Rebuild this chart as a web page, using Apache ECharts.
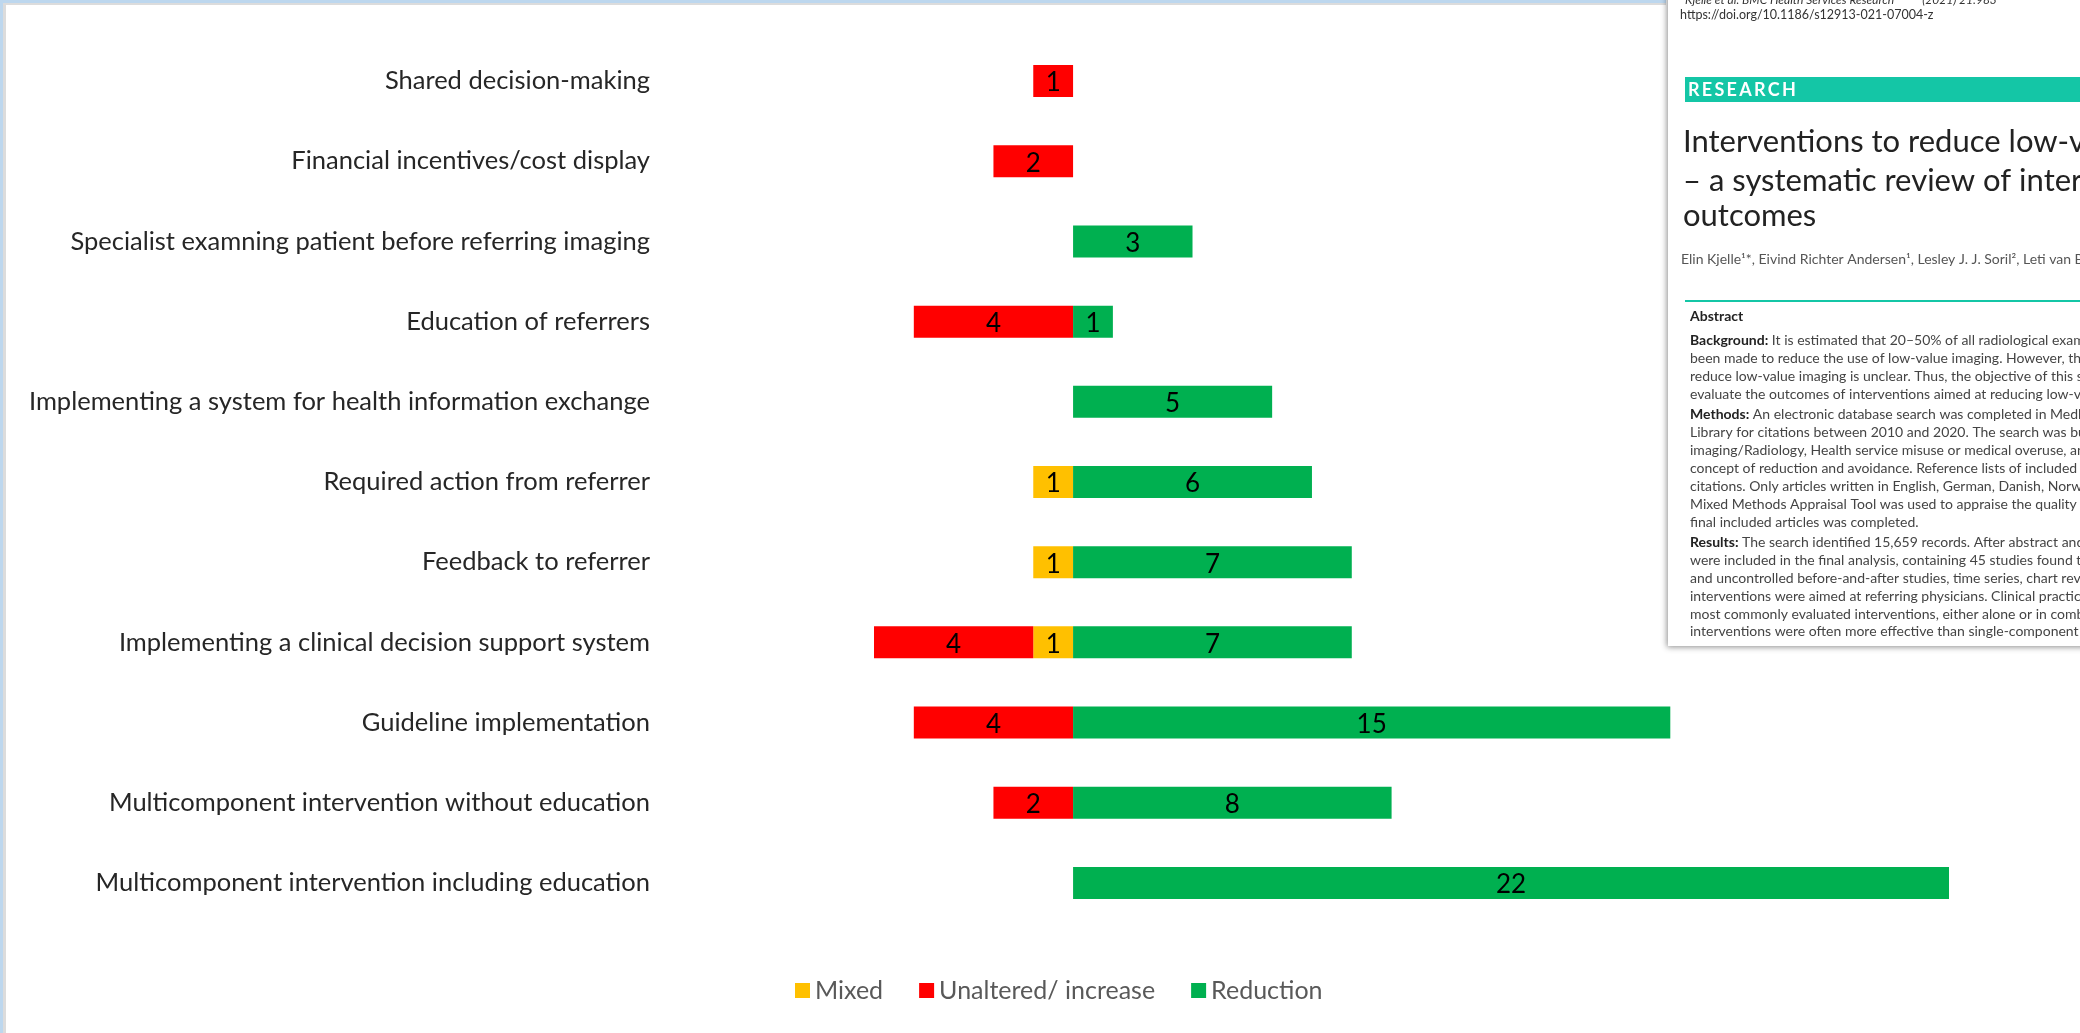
<!DOCTYPE html>
<html><head><meta charset="utf-8">
<script src="https://cdn.jsdelivr.net/npm/echarts@6/dist/echarts.min.js"></script>
<style>html,body{margin:0;padding:0;background:#fff}#c{width:2080px;height:1033px}</style>
</head><body><div id="c"></div>
<script>
const categories = [
  'Shared decision-making',
  'Financial incentives/cost display',
  'Specialist examning patient before referring imaging',
  'Education of referrers',
  'Implementing a system for health information exchange',
  'Required action from referrer',
  'Feedback to referrer',
  'Implementing a clinical decision support system',
  'Guideline implementation',
  'Multicomponent intervention without education',
  'Multicomponent intervention including education'
];
const mixed     = [0, 0, 0, 0, 0, 1, 1, 1, 0, 0, 0];
const unaltered = [1, 2, 0, 4, 0, 0, 0, 4, 4, 2, 0];
const reduction = [0, 0, 3, 1, 5, 6, 7, 7, 15, 8, 22];
const seriesNames = ['Mixed', 'Unaltered/ increase', 'Reduction'];

const paperHeader = 'Kjelle et al. BMC Health Services Research          (2021) 21:983';
const paperDoi = 'https://doi.org/10.1186/s12913-021-07004-z';
const paperTitle = ['Interventions to reduce low-value imaging', '\u2013 a systematic review of interventions and', 'outcomes'];
const paperAuthors = 'Elin Kjelle\u00b9*, Eivind Richter Andersen\u00b9, Lesley J. J. Soril\u00b2, Leti van Bodegom-Vos\u00b3';
const paperLines = [
  ['Background:', ' It is estimated that 20\u201350% of all radiological examinations are of low value'],
  ['', 'been made to reduce the use of low-value imaging. However, the effect of interventions'],
  ['', 'reduce low-value imaging is unclear. Thus, the objective of this systematic review'],
  ['', 'evaluate the outcomes of interventions aimed at reducing low-value imaging'],
  ['Methods:', ' An electronic database search was completed in Medline, Embase'],
  ['', 'Library for citations between 2010 and 2020. The search was built'],
  ['', 'imaging/Radiology, Health service misuse or medical overuse, and'],
  ['', 'concept of reduction and avoidance. Reference lists of included articles'],
  ['', 'citations. Only articles written in English, German, Danish, Norwegian'],
  ['', 'Mixed Methods Appraisal Tool was used to appraise the quality of'],
  ['', 'final included articles was completed.'],
  ['Results:', ' The search identified 15,659 records. After abstract and full-text'],
  ['', 'were included in the final analysis, containing 45 studies found that'],
  ['', 'and uncontrolled before-and-after studies, time series, chart reviews'],
  ['', 'interventions were aimed at referring physicians. Clinical practice'],
  ['', 'most commonly evaluated interventions, either alone or in combination'],
  ['', 'interventions were often more effective than single-component interventions']
];
const paperLineY = [340, 358, 376, 394, 414, 432, 450, 468, 486, 504, 522, 542, 560, 578, 596, 614, 631];

const FONT = 'Lato';
const colors = ['#FFC000', '#FF0000', '#00B050'];

function labelFmt(p) { return p.value === 0 ? '' : String(Math.abs(p.value)); }

const series = [
  { name: seriesNames[0], data: mixed.map(v => -v) },
  { name: seriesNames[1], data: unaltered.map(v => -v) },
  { name: seriesNames[2], data: reduction.slice() }
].map((s, i) => ({
  type: 'bar', name: s.name, data: s.data, stack: 'total', barWidth: 32,
  itemStyle: { color: colors[i] },
  label: { show: true, position: 'inside', formatter: labelFmt, color: '#000', fontSize: 26, fontFamily: FONT, offset: [0, 2] },
  emphasis: { disabled: true }
}));

const graphic = [];
// slide frame
graphic.push({ type: 'rect', shape: { x: 0, y: 0, width: 1666, height: 3 }, style: { fill: '#BDD7EE' }, silent: true });
graphic.push({ type: 'rect', shape: { x: 3, y: 3, width: 1663, height: 2 }, style: { fill: '#DCDCDC' }, silent: true });
graphic.push({ type: 'rect', shape: { x: 0, y: 0, width: 3, height: 1033 }, style: { fill: '#BDD7EE' }, silent: true });
graphic.push({ type: 'rect', shape: { x: 3, y: 5, width: 3, height: 1028 }, style: { fill: '#DCDCDC' }, silent: true });
// paper
graphic.push({ type: 'rect', shape: { x: 1668, y: -20, width: 430, height: 666 },
  style: { fill: '#fff', shadowBlur: 6, shadowColor: 'rgba(0,0,0,0.45)', shadowOffsetX: -1, shadowOffsetY: 1 }, silent: true });
graphic.push({ type: 'text', x: 1685, y: 0, silent: true,
  style: { text: paperHeader, font: 'italic 12px ' + FONT, fill: '#333', verticalAlign: 'middle' } });
graphic.push({ type: 'text', x: 1680, y: 15, silent: true,
  style: { text: paperDoi, font: '12.5px ' + FONT, fill: '#333', verticalAlign: 'middle' } });
graphic.push({ type: 'rect', shape: { x: 1685, y: 77, width: 420, height: 25 }, style: { fill: '#14C6A6' }, silent: true });
graphic.push({ type: 'text', x: 1688, y: 90, silent: true,
  style: { text: 'R\u2009E\u2009S\u2009E\u2009A\u2009R\u2009C\u2009H', font: 'bold 18px ' + FONT, fill: '#fff', verticalAlign: 'middle' } });
[142, 181, 216].forEach((y, i) => graphic.push({ type: 'text', x: 1683, y: y, silent: true,
  style: { text: paperTitle[i], font: '31px ' + FONT, fill: '#222', verticalAlign: 'middle' } }));
graphic.push({ type: 'text', x: 1681, y: 259, silent: true,
  style: { text: paperAuthors, font: '14px ' + FONT, fill: '#555', verticalAlign: 'middle' } });
graphic.push({ type: 'rect', shape: { x: 1685, y: 300, width: 420, height: 2 }, style: { fill: '#14C6A6' }, silent: true });
graphic.push({ type: 'text', x: 1690, y: 316, silent: true,
  style: { text: 'Abstract', font: 'bold 14px ' + FONT, fill: '#222', verticalAlign: 'middle' } });
paperLines.forEach((ln, i) => graphic.push({ type: 'text', x: 1690, y: paperLineY[i], silent: true,
  style: {
    text: (ln[0] ? '{b|' + ln[0] + '}' : '') + '{n|' + ln[1] + '}',
    rich: { b: { font: 'bold 14px ' + FONT, fill: '#222' }, n: { font: '14px ' + FONT, fill: '#444' } },
    verticalAlign: 'middle'
  } }));

const option = {
  backgroundColor: '#fff',
  animation: false,
  grid: { left: 874, right: 131, top: 41, height: 882, containLabel: false },
  xAxis: { type: 'value', min: -5, max: 22, show: false, splitLine: { show: false } },
  yAxis: {
    type: 'category', data: categories, inverse: true,
    axisLine: { show: false }, axisTick: { show: false },
    axisLabel: { margin: 224, fontSize: 25.5, fontFamily: FONT, color: '#262626' }
  },
  legend: {
    data: seriesNames, left: 790, top: 973, itemWidth: 15, itemHeight: 15, itemGap: 36,
    icon: 'rect', textStyle: { fontSize: 25, fontFamily: FONT, color: '#595959' }
  },
  series: series,
  graphic: graphic
};
const chart = echarts.init(document.getElementById('c'), null, { renderer: 'canvas' });
chart.setOption(option);
</script></body></html>
